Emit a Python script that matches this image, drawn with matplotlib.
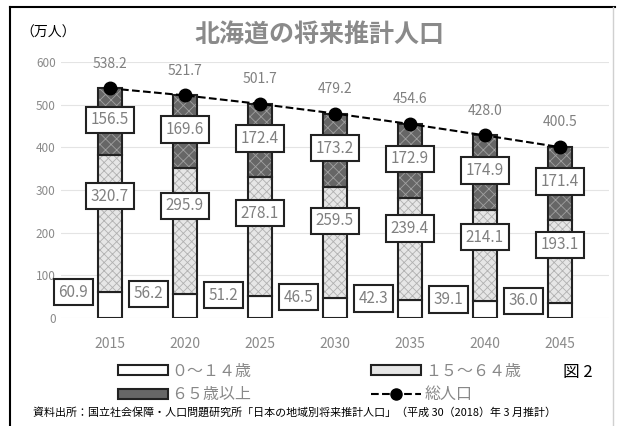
import numpy as np
import matplotlib.pyplot as plt
from matplotlib.lines import Line2D
from matplotlib.patches import Patch

plt.rcParams['font.family'] = ['Noto Sans CJK JP', 'DejaVu Sans']
plt.rcParams['hatch.linewidth'] = 0.6

# data (万人)
years = ['2015', '2020', '2025', '2030', '2035', '2040', '2045']
age_0_14 = [60.9, 56.2, 51.2, 46.5, 42.3, 39.1, 36.0]
age_15_64 = [320.7, 295.9, 278.1, 259.5, 239.4, 214.1, 193.1]
age_65 = [156.5, 169.6, 172.4, 173.2, 172.9, 174.9, 171.4]
total = [538.2, 521.7, 501.7, 479.2, 454.6, 428.0, 400.5]

legend_labels = ['０～１４歳', '６５歳以上', '１５～６４歳', '総人口']
footnote = '資料出所：国立社会保障・人口問題研究所「日本の地域別将来推計人口」（平成 30（2018）年 3 月推計）'

x = np.arange(len(years))
a = np.array(age_0_14)
b = np.array(age_15_64)
c = np.array(age_65)

fig = plt.figure(figsize=(6.22, 4.26), dpi=100)
ax = fig.add_axes([0.0985, 0.2535, 0.88, 0.601])

w = 0.33
edge = '#222222'
# fills with hatching first, black outlines drawn on top
ax.bar(x, a, w, color='white', edgecolor=edge, lw=1.5, zorder=2)
ax.bar(x, b, w, bottom=a, color='#e6e6e6', edgecolor='#b0b0b0', hatch='xxxx', lw=0, zorder=2)
ax.bar(x, c, w, bottom=a + b, color='#666666', edgecolor='#a0a0a0', hatch='xxx', lw=0, zorder=2)
ax.bar(x, b, w, bottom=a, fill=False, edgecolor=edge, lw=1.5, zorder=3)
ax.bar(x, c, w, bottom=a + b, fill=False, edgecolor=edge, lw=1.5, zorder=3)

ax.plot(x, total, '--', color='black', lw=1.5, marker='o', ms=9, zorder=6)

box = dict(boxstyle='square,pad=0.3', fc='white', ec=edge, lw=1.5)
lab_col = '#808080'
for i in range(len(years)):
    ax.text(x[i] - 0.49, a[i] * 0.8 + 12, f'{a[i]:.1f}', ha='center', va='center',
            fontsize=11, color=lab_col, bbox=box, zorder=7)
    ax.text(x[i], a[i] + b[i] * 0.7, f'{b[i]:.1f}', ha='center', va='center',
            fontsize=11, color=lab_col, bbox=box, zorder=7)
    ax.text(x[i], a[i] + b[i] + c[i] / 2 + 5, f'{c[i]:.1f}', ha='center', va='center',
            fontsize=11, color=lab_col, bbox=box, zorder=7)
    ax.text(x[i], total[i] + 58, f'{total[i]:.1f}', ha='center', va='center',
            fontsize=10, color=lab_col, zorder=7, clip_on=False)

ax.set_xlim(-0.65, 6.65)
ax.set_ylim(0, 600)
ax.set_yticks(range(0, 601, 100))
ax.set_xticks(x)
ax.set_xticklabels(years)
ax.tick_params(axis='y', length=0, pad=4, labelsize=8.5, labelcolor='#8a8a8a')
ax.tick_params(axis='x', length=0, pad=14, labelsize=10, labelcolor='#8a8a8a')
ax.grid(axis='y', color='#e4e4e4', lw=0.8, zorder=0)
for s in ax.spines.values():
    s.set_visible(False)

handles = [Patch(fc='white', ec=edge, lw=1.5),
           Patch(fc='#666666', ec=edge, lw=1.5),
           Patch(fc='#e6e6e6', ec=edge, lw=1.5),
           Line2D([], [], ls='--', color='black', marker='o', ms=8, lw=1.5)]
fig.legend(handles, legend_labels, ncol=2, loc='upper left',
           bbox_to_anchor=(118 / 622, 1 - 363 / 426), frameon=False,
           borderpad=0, borderaxespad=0, handlelength=3.1, handleheight=0.6,
           handletextpad=0.25, columnspacing=7.5, labelspacing=0.4,
           fontsize=11.5, labelcolor='#888888')

fig.text(0.514, 1 - 35 / 426, '北海道の将来推計人口', ha='center', va='center',
         fontsize=18, fontweight='bold', color='#8a8a8a')
fig.text(20 / 622, 1 - 33 / 426, '（万人）', ha='left', va='center', fontsize=10)
fig.text(563 / 622, 1 - 373 / 426, '図 2', ha='left', va='center', fontsize=12)
fig.text(33 / 622, 1 - 412 / 426, footnote, ha='left', va='center', fontsize=7.9)

# frame around the figure
fig.add_artist(Line2D([10 / 622, 10 / 622], [0, 1 - 7 / 426], color='black', lw=1.5))
fig.add_artist(Line2D([10 / 622, 615 / 622], [1 - 7 / 426, 1 - 7 / 426], color='black', lw=1.5))
fig.add_artist(Line2D([613 / 622, 613 / 622], [0, 1 - 7 / 426], color='#d0d0d0', lw=1))

fig.savefig('out.png', dpi=100)
